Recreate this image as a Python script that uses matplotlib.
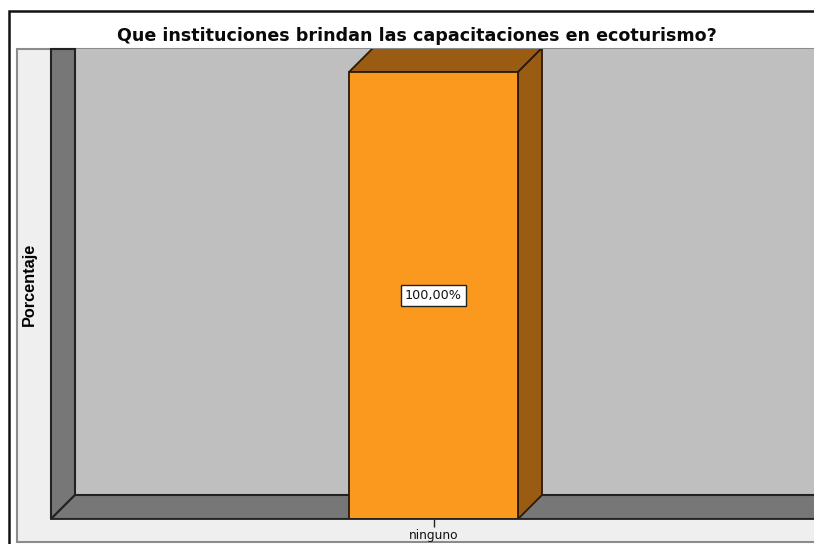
import matplotlib
matplotlib.use('Agg')
import matplotlib.pyplot as plt
from matplotlib.patches import Polygon, Rectangle

categories = ['ninguno']
values = [100.0]
labels = ['100,00%']
title = 'Que instituciones brindan las capacitaciones en ecoturismo?'
ylabel = 'Porcentaje'

W, H = 814, 544
plt.rcParams['font.family'] = ['DejaVu Sans']

fig = plt.figure(figsize=(W / 100, H / 100), dpi=100, facecolor='white')

# background layer in pixels, y going down
bg = fig.add_axes([0, 0, 1, 1])
bg.set_xlim(0, W)
bg.set_ylim(H, 0)
bg.axis('off')
bg.add_patch(Rectangle((8.5, 11), W, H, fc='white', ec='#111111', lw=1.8))
bg.add_patch(Rectangle((17, 49), W, 493, fc='#efefef', ec='#8c8c8c', lw=1.5))
bg.text(416.5, 36, title, ha='center', va='center', fontsize=12.6, fontweight='bold', color='#0a0a0a')
bg.text(29, 284, ylabel, ha='center', va='center', rotation=90, fontsize=11.7, fontweight='bold',
        family=['Liberation Sans'], color='#000000')

# plot area
left, right, bottom, top = 51, W, 519, 49
ax = fig.add_axes([left / W, 1 - bottom / H, (right - left) / W, (bottom - top) / H])
px_x = 169.0   # pixels for one category
px_y = 4.47    # pixels for one percent
ax.set_xlim((left - 433.5) / px_x, (right - 433.5) / px_x)
ax.set_ylim(0, (bottom - top) / px_y)
ax.patch.set_alpha(0)
for s in ax.spines.values():
    s.set_visible(False)
ax.spines['bottom'].set_visible(True)
ax.spines['bottom'].set_color('#222222')
ax.spines['bottom'].set_linewidth(1.3)
ax.spines['bottom'].set_zorder(5)
ax.set_yticks([])
ax.set_xticks(range(len(categories)), categories)
ax.tick_params(axis='x', length=6, width=1, color='#222222', labelsize=8.8, pad=1.5, labelcolor='#111111')

# 3d depth
dx = 24 / px_x
dy = 24 / px_y
x0, x1 = ax.get_xlim()
y0, y1 = ax.get_ylim()
edge = '#222222'
ax.add_patch(Rectangle((x0, y0), x1 - x0, y1 - y0, fc='#bfbfbf', ec='none', zorder=0))
ax.add_patch(Polygon([(x0, y0), (x0 + dx, dy), (x0 + dx, y1), (x0, y1)], fc='#777777', ec=edge, lw=1.5, zorder=1, clip_on=False))
ax.add_patch(Polygon([(x0, y0), (x1 + 1, y0), (x1 + 1, dy), (x0 + dx, dy)], fc='#777777', ec=edge, lw=1.5, zorder=1))

for i, (v, lab) in enumerate(zip(values, labels)):
    bars = ax.bar(i, v, width=1.0, color='#fb981e', edgecolor='#2a1a08', linewidth=1.3, zorder=3)
    r = bars[0]
    a, b = r.get_x(), r.get_x() + r.get_width()
    ax.add_patch(Polygon([(a, v), (a + dx, v + dy), (b + dx, v + dy), (b, v)], fc='#995c12', ec='#2a1a08', lw=1.3, zorder=2))
    ax.add_patch(Polygon([(b, 0), (b + dx, dy), (b + dx, v + dy), (b, v)], fc='#995c12', ec='#2a1a08', lw=1.3, zorder=2))
    ax.text(i, v / 2, lab, ha='center', va='center', fontsize=9.2, color='#111111', zorder=4,
            bbox=dict(boxstyle='square,pad=0.3', fc='white', ec='#222222', lw=1))

fig.savefig('out.png', dpi=100)
